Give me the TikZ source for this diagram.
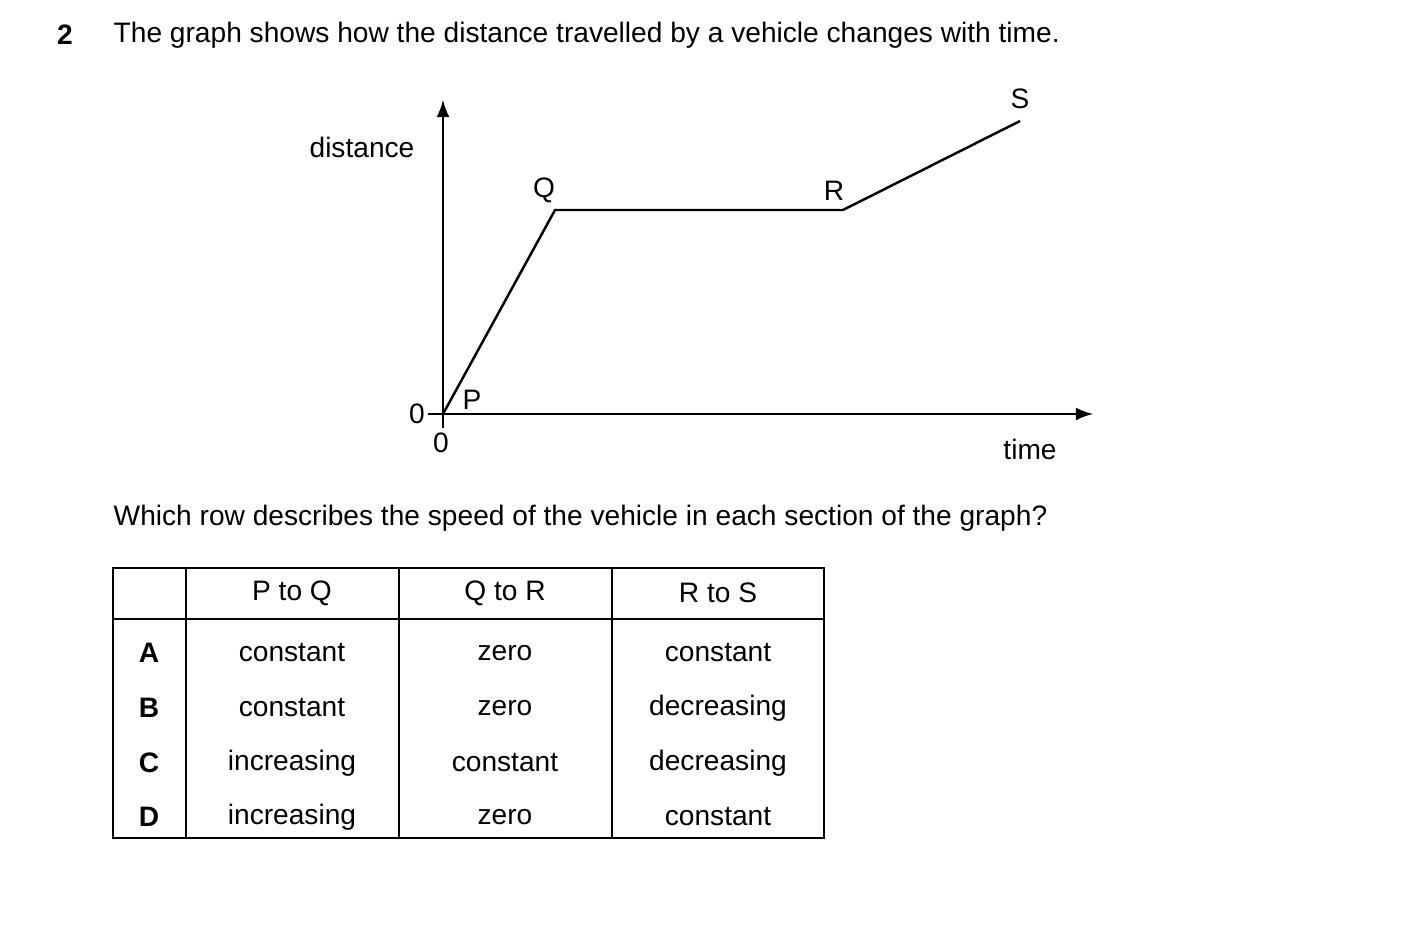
\documentclass[tikz,border=0pt]{standalone}
\usepackage{fontspec}
\setmainfont{Liberation Sans}
\usetikzlibrary{calc}
\begin{document}
\begin{tikzpicture}[x=0.01cm,y=-0.01cm,>=latex,
  txt/.style={font=\fontsize{8}{9}\selectfont,inner sep=0pt},
  cell/.style={txt,anchor=center},
  graphline/.style={line width=0.7pt}]
\useasboundingbox (0,0) rectangle (1403,931);
	%question
	\node[txt,font=\fontsize{8}{9}\selectfont\bfseries] (num) at (65,35) {2};
	\node[txt,anchor=west] (title) at (113,35) {The graph shows how the distance travelled by a vehicle changes with time.};
	%axes
	\coordinate (P) at (443,414);
	\coordinate (ytop) at (443,100);
	\coordinate (xend) at (1093,414);
	\draw[graphline,->] (443,428) -- (ytop);
	\draw[graphline,->] (428,414) -- (xend);
	\node[txt] (zeroy) at (417,414) {0};
	\node[txt] (zerox) at (441,443) {0};
	\node[txt] (dist) at (362,147) {distance};
	\node[txt] (time) at (1030,449) {time};
	%the journey
	\coordinate (Q) at (555,210);
	\coordinate (R) at (843,210);
	\coordinate (S) at (1020,121);
	\draw[graphline] (P) -- (Q) -- (R) -- (S);
	\node[txt] (lP) at (472,400) {P};
	\node[txt] (lQ) at (544,190) {Q};
	\node[txt] (lR) at (834,191) {R};
	\node[txt] (lS) at (1020,99) {S};
	\node[txt,anchor=west] (ask) at (113,518) {Which row describes the speed of the vehicle in each section of the graph?};
	%table
	\draw[line width=0.6pt] (113,568) rectangle (824,838);
	\draw[line width=0.6pt] (113,619) -- (824,619);
	\foreach \cx in {186,399,612}
	    \draw[line width=0.6pt] (\cx,568) -- (\cx,838);
	\node[cell] (h1) at (292,593) {P to Q};
	\node[cell] (h2) at (505,593) {Q to R};
	\node[cell] (h3) at (718,593) {R to S};
	\foreach \r/\ry/\a/\b/\c in {A/653/constant/zero/constant,
	    B/708/constant/zero/decreasing,
	    C/763/increasing/constant/decreasing,
	    D/817/increasing/zero/constant}{
	    \node[cell,font=\fontsize{8}{9}\selectfont\bfseries] (row\r) at (149,\ry) {\r};
	    \node[cell] (pq\r) at (292,\ry) {\a};
	    \node[cell] (qr\r) at (505,\ry) {\b};
	    \node[cell] (rs\r) at (718,\ry) {\c};
	}
\end{tikzpicture}
\end{document}
